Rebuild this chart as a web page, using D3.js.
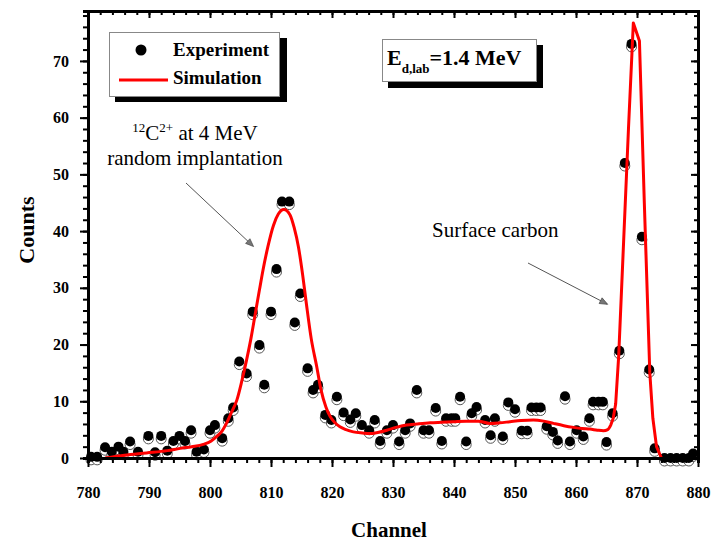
<!DOCTYPE html>
<html>
<head>
<meta charset="utf-8">
<script src="https://cdn.jsdelivr.net/npm/d3@7"></script>
<style>
body { margin: 0; background: #fff; }
text { font-family: "Liberation Serif", "Times New Roman", serif; }
</style>
</head>
<body>
<script>
// experiment points (channel, counts)
var expChannel = [780.5, 781.5, 782.8, 783.9, 785.0, 785.8, 786.9, 788.2, 789.9, 791.0,
    792.0, 793.0, 794.0, 795.0, 795.9, 796.9, 797.8, 799.0, 800.0, 800.8,
    802.0, 803.0, 803.8, 804.8, 806.0, 807.0, 808.1, 808.9, 810.0, 810.9,
    811.8, 813.0, 813.9, 814.8, 816.0, 816.9, 817.7, 818.9, 819.9, 820.8,
    821.9, 823.0, 823.9, 824.9, 826.1, 827.0, 827.9, 829.0, 830.0, 831.0,
    832.0, 832.8, 833.9, 835.0, 835.9, 837.0, 838.0, 838.7, 839.6, 840.2,
    841.0, 842.0, 842.9, 843.7, 845.1, 846.0, 846.7, 848.0, 848.9, 850.0,
    851.1, 852.0, 852.7, 853.5, 854.2, 855.2, 856.2, 857.0, 858.2, 859.0,
    860.1, 861.2, 862.2, 862.8, 863.7, 864.4, 865.0, 866.0, 867.1, 868.0,
    869.1, 870.8, 872.0, 872.9, 874.5, 875.5, 876.5, 877.5, 878.5, 879.2];
var expCounts = [0.2, 0.2, 1.9, 1.1, 2.0, 1.1, 2.9, 1.1, 3.9, 1.0,
    3.9, 1.3, 3.0, 3.9, 3.0, 4.9, 1.1, 1.5, 4.9, 5.8,
    3.5, 7.0, 8.9, 17.0, 14.9, 25.8, 19.9, 12.9, 25.8, 33.3,
    45.2, 45.2, 23.9, 29.0, 15.8, 12.0, 12.9, 7.6, 6.7, 10.8,
    8.0, 6.8, 7.9, 5.8, 4.9, 6.7, 3.0, 4.9, 5.8, 2.9,
    4.9, 6.1, 12.0, 4.9, 4.9, 8.8, 3.0, 7.0, 7.0, 7.0,
    10.8, 2.9, 7.9, 9.0, 6.7, 4.0, 7.0, 3.8, 9.8, 8.6,
    4.8, 4.8, 8.9, 8.9, 8.9, 5.6, 4.6, 3.1, 10.9, 2.9,
    4.9, 3.8, 7.0, 9.9, 9.9, 9.9, 2.8, 7.9, 18.9, 52.0,
    73.0, 39.0, 15.6, 1.7, 0, 0, 0, 0, 0, 0.8];

// simulation curve: smooth part, then the surface-carbon peak
var simChannel = [782.8, 786, 789.6, 793, 795.1, 797, 798.9, 800.2, 801.1, 802,
    802.7, 803.5, 804.4, 805.2, 806, 806.7, 807.4, 808.1, 808.7, 809.5,
    810.4, 811.2, 812.1, 813.1, 813.8, 814.5, 815.2, 815.8, 816.6, 817.5,
    818.2, 819.0, 819.7, 820.5, 821.3, 822.3, 823.5, 825, 826.2, 827.5,
    829, 830.5, 832.2, 834, 836.1, 838, 839.9, 842, 844, 845.9,
    847.5, 849.2, 851, 853, 854.7, 856.3, 858, 859.6, 861, 862.3,
    863.5, 864.5, 865.2, 865.7, 866.1, 866.5, 867, 867.8, 868.6, 869.4,
    870.4, 871.2, 872.1, 872.6, 873.2, 874];
var simCounts = [0, 0.5, 0.9, 1.3, 1.7, 2.0, 2.4, 3.0, 3.8, 4.8,
    6.1, 8.0, 10.2, 13.5, 17.3, 21.0, 25.3, 29.6, 33.2, 37.3,
    41.0, 43.0, 43.8, 42.9, 40.6, 37.2, 32.2, 27.2, 21.0, 16.1,
    12.0, 9.0, 7.3, 6.2, 5.5, 5.0, 4.6, 4.4, 4.3, 4.5,
    4.9, 5.4, 5.8, 6.0, 6.2, 6.3, 6.4, 6.5, 6.5, 6.1,
    6.2, 6.4, 6.6, 6.7, 6.5, 6.1, 5.7, 5.4, 5.2, 5.1,
    4.9, 4.8, 5.0, 5.8, 7.0, 9.5, 18, 38, 58, 76.7,
    73.5, 45, 15, 7, 2, 0];
var simSplit = 63; // index where the sharp peak part starts (865.7)

var xTicks = [780, 790, 800, 810, 820, 830, 840, 850, 860, 870, 880];
var yTicks = [0, 10, 20, 30, 40, 50, 60, 70];

var W = 716, H = 545;
var plot = {left: 88, right: 698, top: 11, bottom: 458};

var svg = d3.select("body").append("svg")
    .attr("width", W)
    .attr("height", H);

var x = d3.scaleLinear().domain([780, 880]).range([plot.left, plot.right]);
var y = d3.scaleLinear().domain([0, 78.8]).range([plot.bottom, plot.top]);

var pts = expChannel.map(function(c, i) { return {c: c, v: expCounts[i]}; });
var sim = simChannel.map(function(c, i) { return {c: c, v: simCounts[i]}; });

// points: hollow shadow below, black disk on top
svg.append("g").selectAll("circle").data(pts).enter().append("circle")
    .attr("cx", function(d) { return x(d.c); })
    .attr("cy", function(d) { return y(d.v) + 3; })
    .attr("r", 5)
    .attr("fill", "#fff")
    .attr("stroke", "#555")
    .attr("stroke-width", 1);
svg.append("g").selectAll("circle").data(pts).enter().append("circle")
    .attr("cx", function(d) { return x(d.c); })
    .attr("cy", function(d) { return y(d.v); })
    .attr("r", 5)
    .attr("fill", "#000");

// simulation line (smooth, then straight segments for the narrow peak)
var smooth = d3.line()
    .x(function(d) { return x(d.c); })
    .y(function(d) { return y(d.v); })
    .curve(d3.curveMonotoneX);
var straight = d3.line()
    .x(function(d) { return x(d.c); })
    .y(function(d) { return y(d.v); });
svg.append("path")
    .attr("d", smooth(sim.slice(0, simSplit + 1)) + straight(sim.slice(simSplit)).replace("M", "L"))
    .attr("fill", "none")
    .attr("stroke", "#f00")
    .attr("stroke-width", 3)
    .attr("stroke-linejoin", "round");

// axes
var minorX = d3.range(780, 881, 2), minorY = d3.range(0, 79, 2);
function styleAxis(g) {
    g.select(".domain").attr("stroke-width", 3).attr("stroke", "#000");
    g.selectAll(".tick line").attr("stroke-width", 2);
}
var axBottom = svg.append("g").attr("transform", "translate(0," + plot.bottom + ")");
axBottom.append("g").call(d3.axisBottom(x).tickValues(minorX).tickSize(5).tickFormat("")).call(styleAxis);
axBottom.append("g").call(d3.axisBottom(x).tickValues(xTicks).tickSize(9).tickSizeOuter(0)).call(styleAxis)
    .selectAll("text").attr("y", 40).attr("dy", 0)
    .attr("font-size", 16).attr("font-weight", "bold").attr("fill", "#000");

var axTop = svg.append("g").attr("transform", "translate(0," + plot.top + ")");
axTop.append("g").call(d3.axisBottom(x).tickValues(minorX).tickSize(4).tickFormat("")).call(styleAxis);
axTop.append("g").call(d3.axisBottom(x).tickValues(xTicks).tickSize(7).tickFormat("").tickSizeOuter(0)).call(styleAxis);

var axLeft = svg.append("g").attr("transform", "translate(" + plot.left + ",0)");
axLeft.append("g").call(d3.axisLeft(y).tickValues(minorY).tickSize(5).tickFormat("")).call(styleAxis);
axLeft.append("g").call(d3.axisLeft(y).tickValues(yTicks).tickSize(8).tickSizeOuter(0)).call(styleAxis)
    .selectAll("text").attr("x", -19)
    .attr("font-size", 16).attr("font-weight", "bold").attr("fill", "#000");

var axRight = svg.append("g").attr("transform", "translate(" + plot.right + ",0)");
axRight.append("g").call(d3.axisLeft(y).tickValues(minorY).tickSize(4).tickFormat("")).call(styleAxis);
axRight.append("g").call(d3.axisLeft(y).tickValues(yTicks).tickSize(7).tickFormat("").tickSizeOuter(0)).call(styleAxis);
svg.selectAll("g").attr("font-family", null);

// axis titles
svg.append("text").attr("x", 389).attr("y", 537)
    .attr("text-anchor", "middle").attr("font-size", 21).attr("font-weight", "bold")
    .text("Channel");
svg.append("text").attr("transform", "translate(34,230) rotate(-90)")
    .attr("text-anchor", "middle").attr("font-size", 22).attr("font-weight", "bold")
    .text("Counts");

// legend box
svg.append("rect").attr("x", 115).attr("y", 38).attr("width", 172).attr("height", 64).attr("fill", "#000");
svg.append("rect").attr("x", 109.5).attr("y", 32.5).attr("width", 170).attr("height", 64)
    .attr("fill", "#fff").attr("stroke", "#888").attr("stroke-width", 1);
svg.append("circle").attr("cx", 141).attr("cy", 50).attr("r", 5.5).attr("fill", "#000");
svg.append("line").attr("x1", 119).attr("x2", 168).attr("y1", 80).attr("y2", 80)
    .attr("stroke", "#f00").attr("stroke-width", 3);
svg.append("text").attr("x", 173).attr("y", 56).attr("font-size", 19).attr("font-weight", "bold").text("Experiment");
svg.append("text").attr("x", 173).attr("y", 84).attr("font-size", 19).attr("font-weight", "bold").text("Simulation");

// energy box
svg.append("rect").attr("x", 388).attr("y", 45).attr("width", 155).attr("height", 43).attr("fill", "#000");
svg.append("rect").attr("x", 382.5).attr("y", 39.5).attr("width", 154).attr("height", 42)
    .attr("fill", "#fff").attr("stroke", "#888").attr("stroke-width", 1);
var et = svg.append("text").attr("x", 387).attr("y", 65).attr("font-weight", "bold").attr("font-size", 22);
et.append("tspan").text("E");
et.append("tspan").attr("font-size", 13).attr("dy", 8).text("d,lab");
et.append("tspan").attr("dy", -8).text("=1.4 MeV");

// annotations
var a1 = svg.append("text").attr("x", 195).attr("y", 140).attr("text-anchor", "middle").attr("font-size", 21);
a1.append("tspan").attr("font-size", 13).attr("dy", -8).text("12");
a1.append("tspan").attr("dy", 8).text("C");
a1.append("tspan").attr("font-size", 13).attr("dy", -8).text("2+");
a1.append("tspan").attr("dy", 8).text(" at 4 MeV");
svg.append("text").attr("x", 195).attr("y", 165).attr("text-anchor", "middle").attr("font-size", 21)
    .text("random implantation");
svg.append("text").attr("x", 432).attr("y", 237).attr("font-size", 21).text("Surface carbon");

svg.append("defs").append("marker").attr("id", "ah")
    .attr("viewBox", "0 0 10 10").attr("refX", 9).attr("refY", 5)
    .attr("markerWidth", 12).attr("markerHeight", 8).attr("markerUnits", "userSpaceOnUse")
    .attr("orient", "auto")
    .append("path").attr("d", "M0,1 L10,5 L0,9 Z").attr("fill", "#777").attr("stroke", "#444").attr("stroke-width", 0.8);
svg.append("line").attr("x1", 186).attr("y1", 183).attr("x2", 253).attr("y2", 246)
    .attr("stroke", "#555").attr("stroke-width", 1).attr("marker-end", "url(#ah)");
svg.append("line").attr("x1", 528).attr("y1", 263).attr("x2", 607).attr("y2", 304)
    .attr("stroke", "#555").attr("stroke-width", 1).attr("marker-end", "url(#ah)");
</script>
</body>
</html>
